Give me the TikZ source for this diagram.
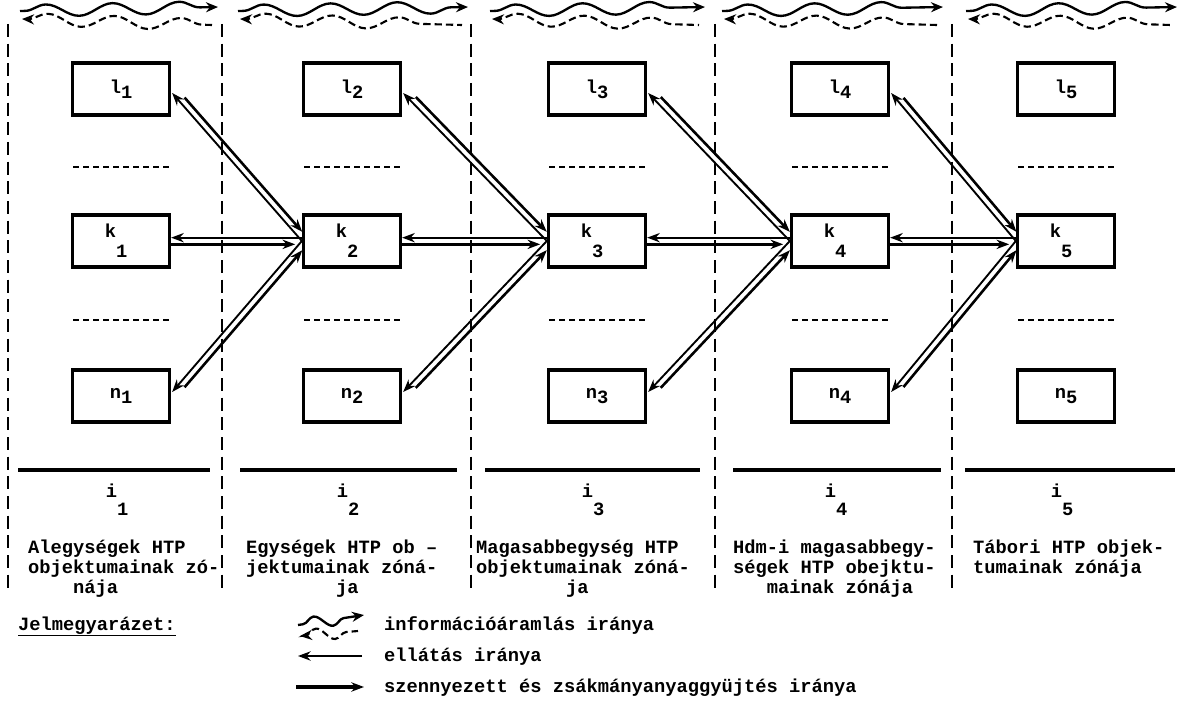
\documentclass[tikz,border=0pt]{standalone}
\usepackage{fontspec}
\setmonofont{Liberation Mono}
\usetikzlibrary{arrows.meta,decorations.pathmorphing,calc}

\begin{document}
\begin{tikzpicture}[
        x=0.3mm, y=-0.3mm,
        every node/.style={font=\ttfamily\bfseries\fontsize{16}{17}\selectfont, inner sep=0pt},
        unit/.style={draw, line width=2.8pt, minimum width=29.1mm, minimum height=15.6mm},
        zoneline/.style={line width=2.4pt, dash pattern=on 3.9mm off 2mm},
        dots/.style={line width=2pt, dash pattern=on 1.8mm off 1.2mm},
        base/.style={line width=3pt},
        zonetext/.style={anchor=north west, align=left},
        supply/.style={line width=1.6pt, -{Stealth[length=3.8mm,width=2.8mm]}},
        collect/.style={line width=2.2pt, -{Stealth[length=3.8mm,width=2.8mm]}, shorten >=2mm},
        wave/.style={decorate, decoration={snake, segment length=20mm, amplitude=1.8mm, pre length=1.5mm, post length=3mm}},
        infofwd/.style={wave, line width=2pt, -{Stealth[length=3.6mm,width=3mm]}},
        infoback/.style={wave, line width=1.8pt, dash pattern=on 2.2mm off 1.2mm, {Stealth[length=3.6mm,width=3mm]}-}
    ]
    \useasboundingbox (0,0) rectangle (1179,702);

    % zone borders
    \foreach \x in {8,222,471,715,952}
        \draw[zoneline] (\x,24) -- (\x,592);

    % the five zones
    \foreach \i/\cx in {1/121,2/352,3/597,4/840,5/1066} {
        \node[unit] (l\i) at (\cx,89) {l\raisebox{-1.5mm}{\i}};
        \node[unit] (k\i) at (\cx,241) {k\raisebox{-6mm}{\i}\hspace*{3mm}};
        \node[unit] (n\i) at (\cx,396) {n\raisebox{-1.5mm}{\i}};
        \draw[dots] (\cx-48,167) -- (\cx+48,167);
        \draw[dots] (\cx-48,320) -- (\cx+48,320);
        \node (i\i) at (\cx-4,500) {i\raisebox{-5.5mm}{\i}};
    }
    \foreach \a/\b in {18/210,240/457,485/700,733/941,965/1175}
        \draw[base] (\a,470) -- (\b,470);

    % information flow
    \foreach \i/\a/\b in {1/20/218,2/238/468,3/490/705,4/722/943,5/966/1177} {
        \coordinate (wa\i) at (\a,11);
        \coordinate (wb\i) at (\b,7);
        \coordinate (da\i) at (\a+2,19);
        \coordinate (db\i) at (\b-6,25);
        \draw[infofwd] (wa\i) -- (wb\i);
        \draw[infoback] (da\i) -- (db\i);
    }

    % supply and collection between neighbouring zones
    \foreach \i/\j in {1/2,2/3,3/4,4/5} {
        \coordinate (p\j) at (k\j.west);
        \coordinate (ls\i) at ([shift={(1,4)}]l\i.east);
        \coordinate (lc\i) at ($(ls\i)!1.9mm!90:(p\j)$);
        \coordinate (le\i) at ($(p\j)!1.9mm!-90:(ls\i)$);
        \coordinate (ns\i) at ([shift={(1,-4)}]n\i.east);
        \coordinate (nc\i) at ($(ns\i)!1.9mm!-90:(p\j)$);
        \coordinate (ne\i) at ($(p\j)!1.9mm!90:(ns\i)$);
        \coordinate (ks\i) at ([yshift=1mm]k\i.east);
        \coordinate (kc\i) at ([yshift=-1mm]k\i.east);
        \draw[supply] (p\j) -- (ls\i);
        \draw[collect, shorten <=3.5mm] (lc\i) -- (le\i);
        \draw[supply] ([yshift=1mm]p\j) -- (ks\i);
        \draw[collect] (kc\i) -- ([yshift=-1mm]p\j);
        \draw[supply] (p\j) -- (ns\i);
        \draw[collect, shorten <=3.5mm] (nc\i) -- (ne\i);
    }

    % zone names
    \node[zonetext] (z1) at (28,540) {Alegységek HTP\\objektumainak zó-\\\hphantom{xxxx}nája};
    \node[zonetext] (z2) at (246,540) {Egységek HTP ob –\\jektumainak zóná-\\\hphantom{xxxxxxxx}ja};
    \node[zonetext] (z3) at (476,540) {Magasabbegység HTP\\objektumainak zóná-\\\hphantom{xxxxxxxx}ja};
    \node[zonetext] (z4) at (733,540) {Hdm-i magasabbegy-\\ségek HTP obejktu-\\\hphantom{xxx}mainak zónája};
    \node[zonetext] (z5) at (973,540) {Tábori HTP objek-\\tumainak zónája};

    % key
    \node[anchor=base west] (key) at (18,630) {\underline{Jelmegyarázet:}};
    \coordinate (ia) at (298,625);
    \coordinate (ib) at (364,615);
    \coordinate (ic) at (300,636);
    \coordinate (id) at (358,631);
    \draw[infofwd, decoration={segment length=11mm}] (ia) -- (ib);
    \draw[infoback, decoration={segment length=11mm}] (ic) -- (id);
    \node[anchor=base west] (keyinfo) at (384,630) {információáramlás iránya};
    \coordinate (sa) at (362,656);
    \coordinate (sb) at (298,656);
    \draw[supply] (sa) -- (sb);
    \node[anchor=base west] (keysupply) at (384,661) {ellátás iránya};
    \coordinate (ca) at (296,687);
    \coordinate (cb) at (364,687);
    \draw[collect, line width=3.6pt, shorten >=0pt] (ca) -- (cb);
    \node[anchor=base west] (keycollect) at (384,692) {szennyezett és zsákmányanyaggyüjtés iránya};
\end{tikzpicture}
\end{document}
